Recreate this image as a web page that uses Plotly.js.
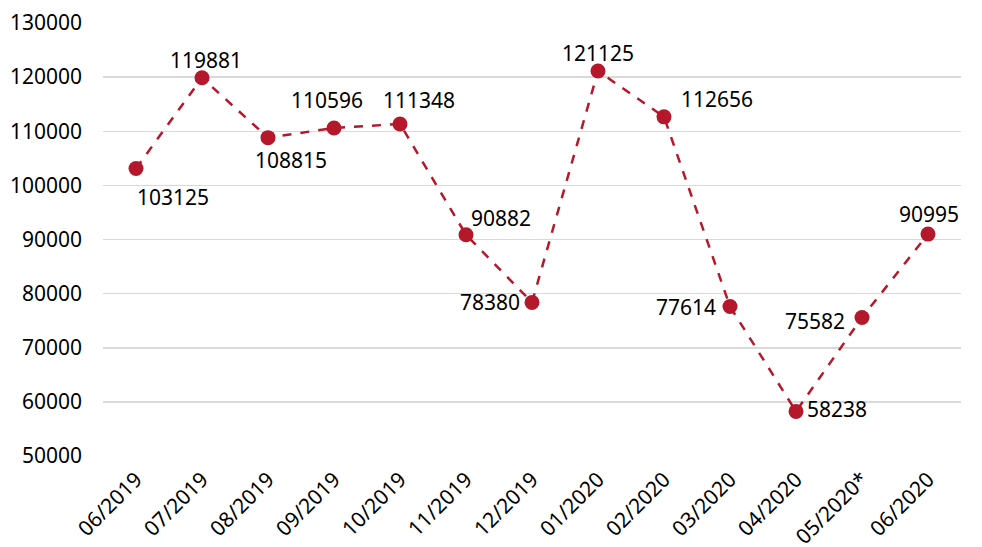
<!DOCTYPE html>
<html><head><meta charset="utf-8">
<script src="https://cdn.plot.ly/plotly-3.0.1.min.js"></script>
<style>html,body{margin:0;padding:0;background:#fff}#chart{width:982px;height:547px}</style>
</head><body><div id="chart"></div>
<script>
var months = ["06/2019","07/2019","08/2019","09/2019","10/2019","11/2019","12/2019","01/2020","02/2020","03/2020","04/2020","05/2020*","06/2020"];
var values = [103125,119881,108815,110596,111348,90882,78380,121125,112656,77614,58238,75582,90995];
var yTicks = [50000,60000,70000,80000,90000,100000,110000,120000,130000];

// label offsets (pixels) relative to each point
var labelDx = [37, 4, 23, -7, 19, 35, -42, 0, 53, -44, 41, -47, 1];
var labelDy = [-29, 18, -22, 28, 24, 17, 0, 18, 18, 0, 2, -3, 20];

var color = "#b5172b";
var font = "Noto Sans, Open Sans, sans-serif";

var annotations = months.map(function(m, i){
  return {x: i, y: values[i], xref:"x", yref:"y", text: String(values[i]),
    showarrow:false, xshift: labelDx[i], yshift: labelDy[i],
    font:{family:font, size:21, color:"#000"}};
});

var trace = {
  x: months.map(function(m,i){return i;}), y: values, type:"scatter", mode:"lines+markers",
  line:{color:color, width:2.5, dash:"dash"},
  marker:{color:color, size:15},
  hoverinfo:"none"
};

var layout = {
  width:982, height:547,
  margin:{l:103, r:21, t:23, b:91},
  paper_bgcolor:"#fff", plot_bgcolor:"#fff",
  showlegend:false,
  xaxis:{range:[-0.5,12.5], tickmode:"array", tickvals: months.map(function(m,i){return i;}), ticktext: months,
    tickangle:-45, showgrid:false, zeroline:false, showline:false, ticks:"",
    tickfont:{family:font, size:21, color:"#000"}, ticklabelstandoff:6},
  yaxis:{range:[50000,130000], tickmode:"array", tickvals:yTicks, ticktext:yTicks.map(String),
    showgrid:true, gridcolor:"#d9d9d9", gridwidth:1.5, zeroline:false, showline:false, ticks:"",
    tickfont:{family:font, size:21, color:"#000"}, ticklabelstandoff:20},
  annotations: annotations
};
Plotly.newPlot("chart", [trace], layout, {staticPlot:true, displayModeBar:false});
</script></body></html>
